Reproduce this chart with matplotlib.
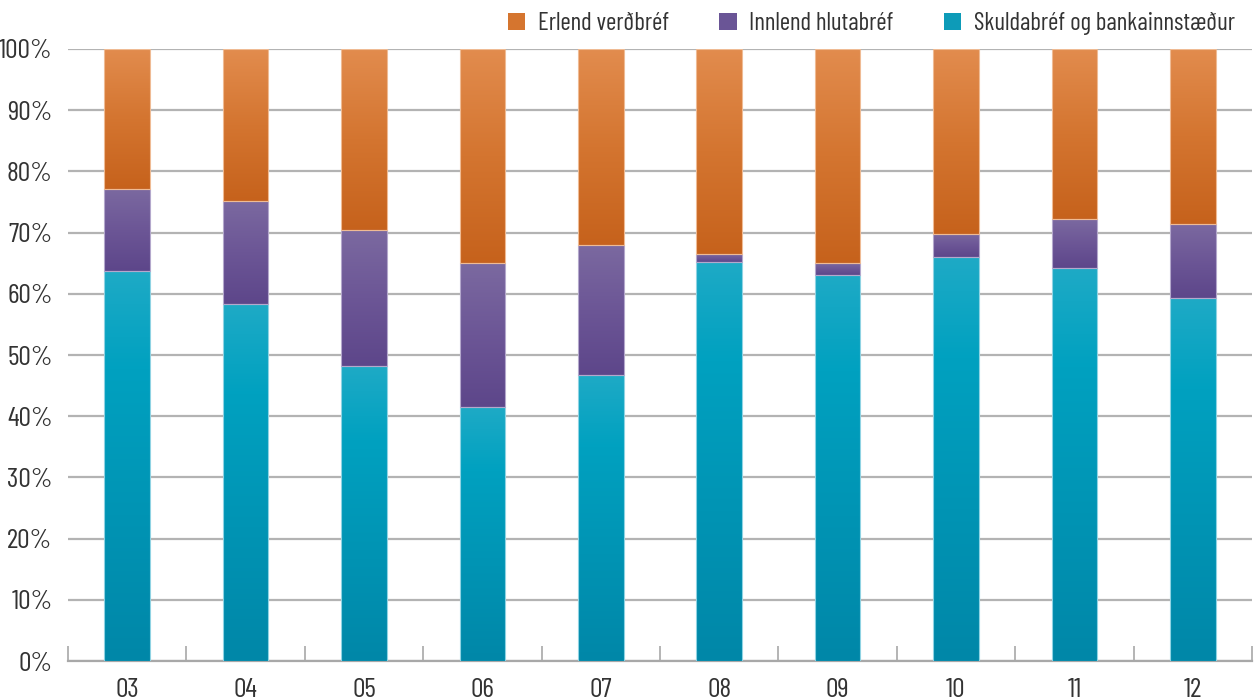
import matplotlib
matplotlib.use("Agg")
import matplotlib.pyplot as plt
import numpy as np
from matplotlib import font_manager
from matplotlib.colors import LinearSegmentedColormap
from matplotlib.patches import Patch
from matplotlib.ticker import MultipleLocator, FuncFormatter

# pick a condensed DIN-like face if one is installed
installed = {f.name for f in font_manager.fontManager.ttflist}
for name in ["Barlow Condensed", "Barlow Semi Condensed", "Roboto Condensed",
             "Liberation Sans Narrow", "DejaVu Sans"]:
    if name in installed:
        font = name
        break
plt.rcParams['font.family'] = [font, 'DejaVu Sans']

years = ["03", "04", "05", "06", "07", "08", "09", "10", "11", "12"]
skuldabref = [63.7, 58.3, 48.2, 41.5, 46.7, 65.2, 63.1, 66.0, 64.2, 59.3]
innlend = [13.4, 16.9, 22.2, 23.5, 21.3, 1.3, 1.9, 3.8, 8.0, 12.1]
erlend = [100 - s - i for s, i in zip(skuldabref, innlend)]

labels = ["Skuldabréf og bankainnstæður", "Innlend hlutabréf", "Erlend verðbréf"]
# (bottom colour, mid colour, top colour)
grads = [("#0087a8", "#00a1c0", "#1eaac6"),
         ("#5d468a", "#6c5696", "#7b69a0"),
         ("#c6621c", "#d47530", "#e28c4e")]
legend_cols = ["#0d9bb8", "#6a5596", "#d5752f"]
edge_cols = ["#8fd3e3", "#b4a8cc", "#efbb94"]
mid_stops = [0.75, 0.5, 0.5]

fig = plt.figure(figsize=(12.57, 7), dpi=100)
ax = fig.add_axes([0.054, 0.0557, 0.942, 0.8743])

x = np.arange(len(years))
width = 0.385
bottom = np.zeros(len(years))
grad = np.linspace(0, 1, 256).reshape(-1, 1)
for vals, cols, ec, m in zip([skuldabref, innlend, erlend], grads, edge_cols, mid_stops):
    bars = ax.bar(x, vals, width, bottom=bottom, facecolor="none",
                  edgecolor=ec, linewidth=0.8, zorder=4)
    cmap = LinearSegmentedColormap.from_list("g", [(0, cols[0]), (m, cols[1]), (1, cols[2])])
    for p in bars.patches:
        x0, y0 = p.get_x(), p.get_y()
        ax.imshow(grad, cmap=cmap, origin="lower", aspect="auto",
                  extent=[x0, x0 + p.get_width(), y0, y0 + p.get_height()],
                  zorder=3, interpolation="bilinear")
    bottom += np.array(vals)

ax.set_xlim(-0.5, len(years) - 0.5)
ax.set_ylim(0, 100)
ax.yaxis.set_major_locator(MultipleLocator(10))
ax.yaxis.set_major_formatter(FuncFormatter(lambda v, p: f"{v:.0f}%"))
ax.grid(axis="y", color="#b3b3b3", linewidth=1.6, zorder=1)
ax.set_axisbelow(True)

ax.set_xticks(x)
ax.set_xticklabels(years)
ax.set_xticks(np.arange(-0.5, len(years)), minor=True)
ax.tick_params(axis="x", which="major", length=0, pad=12, labelsize=20, labelcolor="#333333")
ax.tick_params(axis="x", which="minor", direction="in", length=11, width=1.2, color="#a8a8a8")
ax.tick_params(axis="y", length=0, pad=11, labelsize=20, labelcolor="#333333")

for s in ["left", "right", "top"]:
    ax.spines[s].set_visible(False)
ax.spines["bottom"].set_color("#a8a8a8")
ax.spines["bottom"].set_linewidth(1.6)

handles = [Patch(facecolor=legend_cols[i], label=labels[i]) for i in [2, 1, 0]]
fig.legend(handles=handles, loc="center right", bbox_to_anchor=(1.0, 0.966),
           ncol=3, frameon=False, fontsize=18, handlelength=0.7, handleheight=0.7,
           columnspacing=2.0, handletextpad=0.5, labelcolor="#333333")

fig.savefig("out.png", dpi=100)
